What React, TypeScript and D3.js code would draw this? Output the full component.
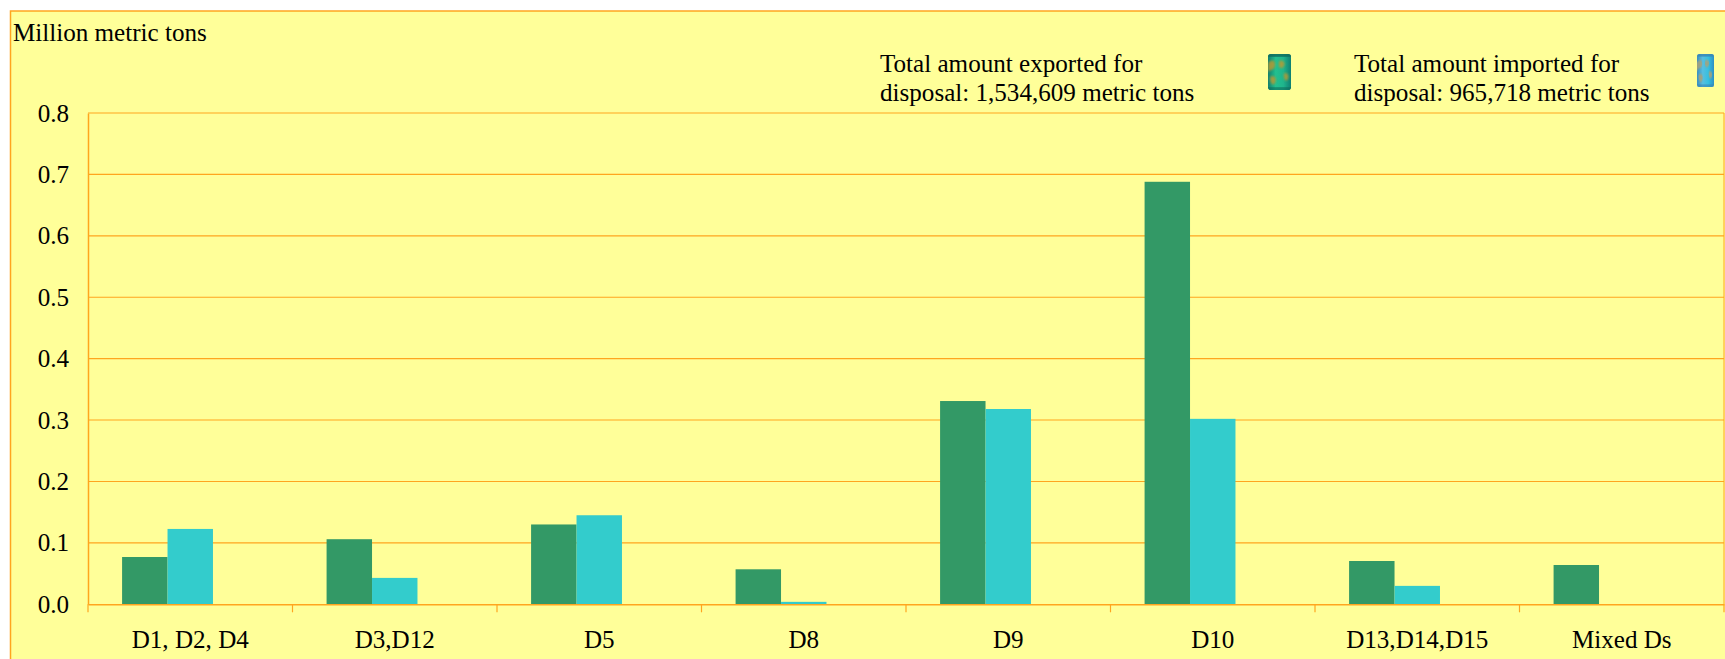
import React, { useEffect, useRef } from 'react';
import * as d3 from 'd3';

const categories = ['D1, D2, D4', 'D3,D12', 'D5', 'D8', 'D9', 'D10', 'D13,D14,D15', 'Mixed Ds'];
const exported = [0.077, 0.106, 0.13, 0.057, 0.331, 0.688, 0.0705, 0.064];
const imported = [0.1227, 0.043, 0.145, 0.004, 0.318, 0.302, 0.03, 0];
const yTicks = [0, 0.1, 0.2, 0.3, 0.4, 0.5, 0.6, 0.7, 0.8];
const seriesNames = ['exported', 'imported', 'blank'];

const exportNote = ['Total amount exported for', 'disposal: 1,534,609 metric tons'];
const importNote = ['Total amount imported for', 'disposal: 965,718 metric tons'];

const WIDTH = 1725;
const HEIGHT = 659;
const FONT = '"Liberation Serif", "Times New Roman", serif';
const FONT_SIZE = 25.1;
const ORANGE = '#ffa51f';

export default function App() {
  const svgRef = useRef<SVGSVGElement>(null);

  useEffect(() => {
    if (!svgRef.current) return;
    const svg = d3.select(svgRef.current);
    svg.selectAll('*').remove();

    const plot = { left: 88, right: 1724, top: 113, bottom: 604.3 };

    const x = d3.scaleBand<string>().domain(categories).range([plot.left, plot.right]);
    const inner = d3
      .scaleBand<string>()
      .domain(seriesNames)
      .range([0, x.bandwidth()])
      .paddingInner(0)
      .paddingOuter(0.75);
    const y = d3.scaleLinear().domain([0, 0.8]).range([plot.bottom, plot.top]);

    // Panel
    svg
      .append('rect')
      .attr('x', 10.5)
      .attr('y', 11)
      .attr('width', WIDTH + 20)
      .attr('height', HEIGHT + 20)
      .attr('fill', '#ffff99')
      .attr('stroke', ORANGE)
      .attr('stroke-width', 1.5);

    // Grid
    svg
      .append('g')
      .selectAll('line')
      .data(yTicks.filter((d) => d > 0))
      .enter()
      .append('line')
      .attr('x1', plot.left)
      .attr('x2', plot.right)
      .attr('y1', (d) => y(d))
      .attr('y2', (d) => y(d))
      .attr('stroke', ORANGE)
      .attr('stroke-width', 1.1);

    // Bars
    const drawBars = (values: number[], name: string, color: string) => {
      svg
        .append('g')
        .selectAll('rect')
        .data(values)
        .enter()
        .append('rect')
        .attr('x', (_, i) => (x(categories[i]) as number) + (inner(name) as number))
        .attr('y', (d) => y(d))
        .attr('width', inner.bandwidth())
        .attr('height', (d) => plot.bottom - y(d))
        .attr('fill', color);
    };
    drawBars(exported, 'exported', '#339966');
    drawBars(imported, 'imported', '#33cccc');

    // Y axis
    const yAxis = svg
      .append('g')
      .attr('transform', `translate(${plot.left},0)`)
      .call(
        d3
          .axisLeft(y)
          .tickValues(yTicks)
          .tickSize(0)
          .tickPadding(19)
          .tickFormat((d) => (d as number).toFixed(1))
      );
    yAxis.select('.domain').attr('stroke', ORANGE).attr('stroke-width', 1.5);
    yAxis
      .selectAll('text')
      .attr('font-family', FONT)
      .attr('font-size', FONT_SIZE)
      .attr('fill', '#000');

    // X axis: ticks sit between the categories
    const xAxis = svg
      .append('g')
      .attr('transform', `translate(0,${plot.bottom})`)
      .call(d3.axisBottom(x).tickSize(0).tickPadding(26).tickSizeOuter(0));
    xAxis.select('.domain').attr('stroke', ORANGE).attr('stroke-width', 1.5);
    xAxis
      .selectAll('text')
      .attr('font-family', FONT)
      .attr('font-size', FONT_SIZE)
      .attr('fill', '#000');

    svg
      .append('g')
      .selectAll('line')
      .data(d3.range(categories.length + 1))
      .enter()
      .append('line')
      .attr('x1', (i) => plot.left + i * x.step())
      .attr('x2', (i) => plot.left + i * x.step())
      .attr('y1', plot.bottom)
      .attr('y2', plot.bottom + 8)
      .attr('stroke', ORANGE)
      .attr('stroke-width', 1.2);

    // Right edge of the plot
    svg
      .append('line')
      .attr('x1', plot.right)
      .attr('x2', plot.right)
      .attr('y1', plot.top)
      .attr('y2', plot.bottom)
      .attr('stroke', ORANGE)
      .attr('stroke-width', 1);

    // Unit label and notes
    const addText = (str: string, tx: number, ty: number) => {
      svg
        .append('text')
        .attr('x', tx)
        .attr('y', ty)
        .attr('font-family', FONT)
        .attr('font-size', FONT_SIZE)
        .attr('fill', '#000')
        .text(str);
    };
    addText('Million metric tons', 13, 41);
    exportNote.forEach((line, i) => addText(line, 880, 72 + i * 29));
    importNote.forEach((line, i) => addText(line, 1354, 72 + i * 29));

    // Barrel pictures
    const defs = svg.append('defs');
    defs
      .append('filter')
      .attr('id', 'soften')
      .append('feGaussianBlur')
      .attr('stdDeviation', 0.9);
    const drawBarrel = (
      id: string,
      bx: number,
      by: number,
      w: number,
      h: number,
      stops: string[],
      splash: string,
      rim: string
    ) => {
      const grad = defs.append('linearGradient').attr('id', id);
      stops.forEach((c, i) => {
        grad
          .append('stop')
          .attr('offset', i / (stops.length - 1))
          .attr('stop-color', c);
      });
      const clipId = `${id}Clip`;
      defs
        .append('clipPath')
        .attr('id', clipId)
        .append('rect')
        .attr('width', 20)
        .attr('height', 32)
        .attr('rx', 2.5);
      const g = svg
        .append('g')
        .attr('transform', `translate(${bx},${by}) scale(${w / 20},${h / 32})`)
        .attr('clip-path', `url(#${clipId})`);
      g.append('rect').attr('width', 20).attr('height', 32).attr('fill', `url(#${id})`);
      g.append('path')
        .attr('d', 'M0 8 C4 4 7 6 6 11 C5 15 1 13 0 17 Z M10 6 C14 5 16 9 13 12 C11 14 8 11 10 6 Z M2 20 C6 18 8 22 6 26 C4 29 1 25 2 20 Z M14 17 C17 16 19 19 17 23 C15 25 13 21 14 17 Z')
        .attr('fill', splash)
        .attr('opacity', 0.85)
        .attr('filter', 'url(#soften)');
      g.append('rect').attr('width', 20).attr('height', 2.5).attr('fill', rim).attr('opacity', 0.8);
      g.append('rect').attr('y', 29.5).attr('width', 20).attr('height', 2.5).attr('fill', rim).attr('opacity', 0.6);
    };
    drawBarrel('barrelGreen', 1268, 54, 23, 36, ['#12806e', '#22c08f', '#1fb58c', '#0f7f72'], '#b59a35', '#0e6a5c');
    drawBarrel('barrelBlue', 1697, 54, 17, 33, ['#3b8fc0', '#58bedf', '#35c0e0', '#2f8fc4'], '#a8a27a', '#3a84b4');
  }, []);

  return (
    <svg
      ref={svgRef}
      width={WIDTH}
      height={HEIGHT}
      style={{ position: 'absolute', left: 0, top: 0, background: '#fff' }}
    />
  );
}
